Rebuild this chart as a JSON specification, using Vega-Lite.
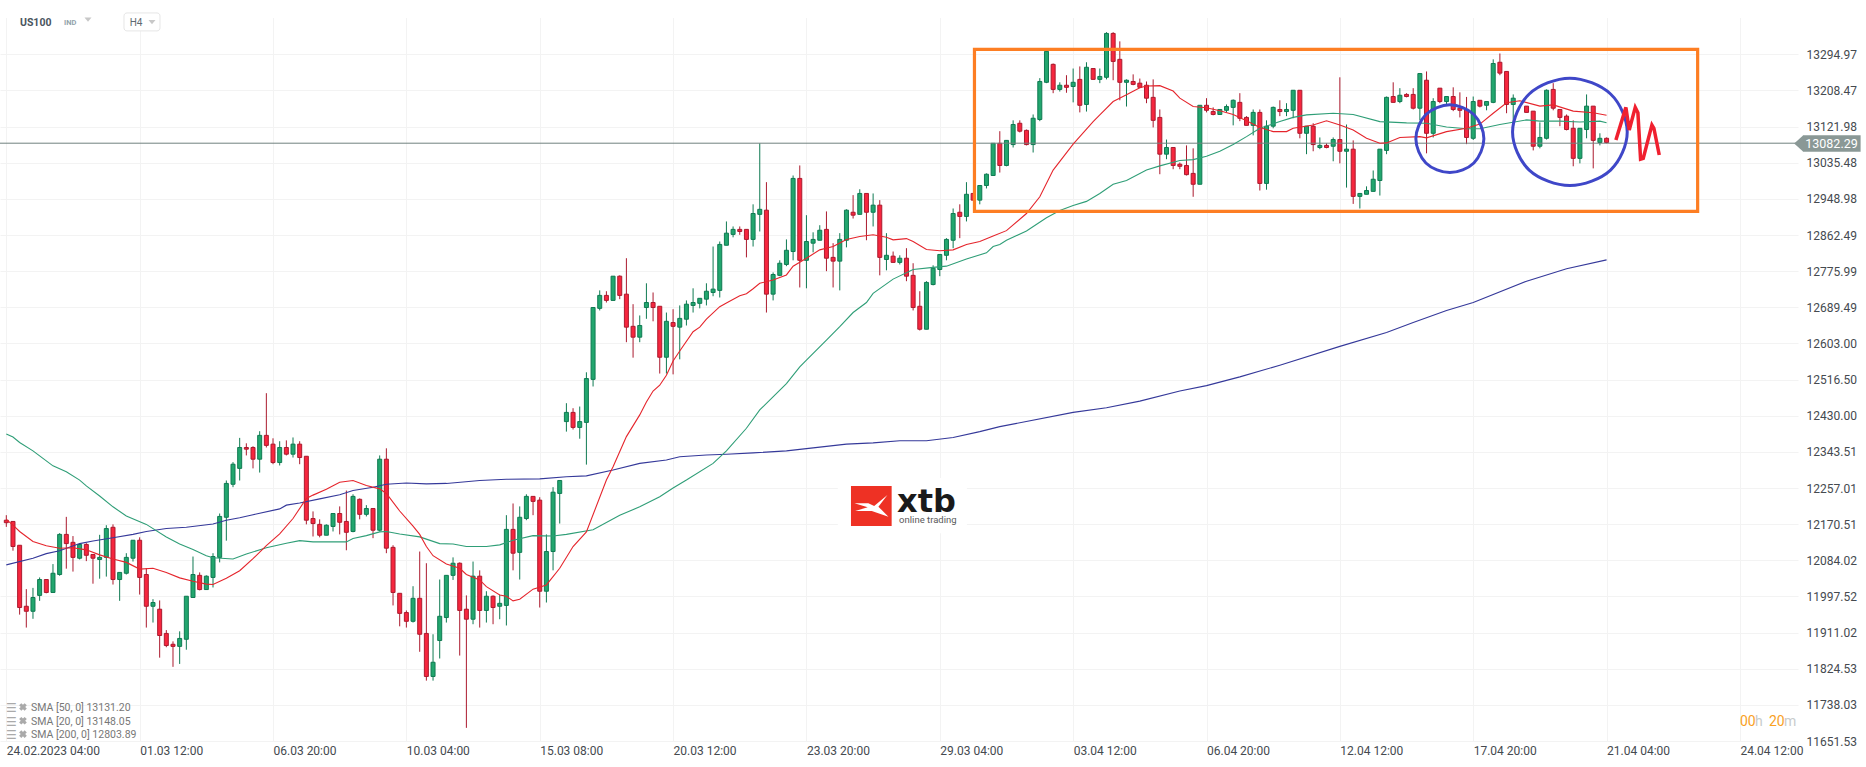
{
"$schema":"https://vega.github.io/schema/vega-lite/v6.json",
"width":1798,"height":741,"autosize":"none",
"padding":{"left":0,"top":0,"right":68,"bottom":26},
"background":"#ffffff",
"config":{"view":{"stroke":null},"text":{"font":"Roboto"},"axis":{"labelFont":"Roboto"}},
"datasets":{
"candles":[
{"i":0,"o":12180,"c":12174,"h":12192,"l":12164,"dir":"down"},{"i":1,"o":12177,"c":12117,"h":12177,"l":12107,"dir":"down"},{"i":2,"o":12120,"c":11971,"h":12120,"l":11954,"dir":"down"},{"i":3,"o":11974,"c":11962,"h":12015,"l":11923,"dir":"down"},{"i":4,"o":11962,"c":11995,"h":12018,"l":11944,"dir":"up"},{"i":5,"o":12000,"c":12038,"h":12043,"l":11987,"dir":"up"},{"i":6,"o":12038,"c":12007,"h":12038,"l":12005,"dir":"down"},{"i":7,"o":12007,"c":12053,"h":12075,"l":12007,"dir":"up"},{"i":8,"o":12050,"c":12146,"h":12149,"l":12047,"dir":"up"},{"i":9,"o":12146,"c":12124,"h":12188,"l":12064,"dir":"down"},
{"i":10,"o":12127,"c":12091,"h":12142,"l":12057,"dir":"down"},{"i":11,"o":12089,"c":12122,"h":12125,"l":12086,"dir":"up"},{"i":12,"o":12122,"c":12096,"h":12125,"l":12082,"dir":"down"},{"i":13,"o":12098,"c":12089,"h":12098,"l":12028,"dir":"down"},{"i":14,"o":12086,"c":12091,"h":12145,"l":12040,"dir":"up"},{"i":15,"o":12091,"c":12160,"h":12168,"l":12045,"dir":"up"},{"i":16,"o":12163,"c":12038,"h":12170,"l":12026,"dir":"down"},{"i":17,"o":12038,"c":12055,"h":12055,"l":11987,"dir":"up"},{"i":18,"o":12053,"c":12091,"h":12101,"l":12050,"dir":"up"},{"i":19,"o":12089,"c":12132,"h":12132,"l":12081,"dir":"up"},
{"i":20,"o":12132,"c":12043,"h":12139,"l":12002,"dir":"down"},{"i":21,"o":12050,"c":11974,"h":12065,"l":11923,"dir":"down"},{"i":22,"o":11974,"c":11983,"h":11991,"l":11935,"dir":"up"},{"i":23,"o":11967,"c":11904,"h":11988,"l":11851,"dir":"down"},{"i":24,"o":11909,"c":11880,"h":11917,"l":11876,"dir":"down"},{"i":25,"o":11883,"c":11878,"h":11890,"l":11829,"dir":"down"},{"i":26,"o":11878,"c":11897,"h":11914,"l":11836,"dir":"up"},{"i":27,"o":11895,"c":11998,"h":11998,"l":11870,"dir":"up"},{"i":28,"o":11995,"c":12050,"h":12093,"l":11995,"dir":"up"},{"i":29,"o":12048,"c":12014,"h":12055,"l":12012,"dir":"down"},
{"i":30,"o":12014,"c":12046,"h":12048,"l":12014,"dir":"up"},{"i":31,"o":12043,"c":12093,"h":12101,"l":12019,"dir":"up"},{"i":32,"o":12091,"c":12189,"h":12196,"l":12079,"dir":"up"},{"i":33,"o":12187,"c":12268,"h":12275,"l":12131,"dir":"up"},{"i":34,"o":12266,"c":12314,"h":12319,"l":12259,"dir":"up"},{"i":35,"o":12304,"c":12354,"h":12377,"l":12275,"dir":"up"},{"i":36,"o":12354,"c":12350,"h":12364,"l":12335,"dir":"down"},{"i":37,"o":12354,"c":12326,"h":12357,"l":12304,"dir":"down"},{"i":38,"o":12326,"c":12383,"h":12393,"l":12294,"dir":"up"},{"i":39,"o":12383,"c":12359,"h":12484,"l":12354,"dir":"down"},
{"i":40,"o":12362,"c":12318,"h":12376,"l":12314,"dir":"down"},{"i":41,"o":12318,"c":12354,"h":12369,"l":12311,"dir":"up"},{"i":42,"o":12354,"c":12338,"h":12371,"l":12335,"dir":"down"},{"i":43,"o":12338,"c":12362,"h":12378,"l":12330,"dir":"up"},{"i":44,"o":12362,"c":12330,"h":12369,"l":12314,"dir":"down"},{"i":45,"o":12333,"c":12180,"h":12333,"l":12170,"dir":"down"},{"i":46,"o":12184,"c":12172,"h":12201,"l":12141,"dir":"down"},{"i":47,"o":12170,"c":12144,"h":12182,"l":12139,"dir":"down"},{"i":48,"o":12144,"c":12168,"h":12170,"l":12144,"dir":"up"},{"i":49,"o":12165,"c":12196,"h":12196,"l":12153,"dir":"up"},
{"i":50,"o":12196,"c":12175,"h":12213,"l":12146,"dir":"down"},{"i":51,"o":12177,"c":12151,"h":12251,"l":12108,"dir":"down"},{"i":52,"o":12153,"c":12237,"h":12242,"l":12151,"dir":"up"},{"i":53,"o":12230,"c":12194,"h":12232,"l":12182,"dir":"down"},{"i":54,"o":12194,"c":12208,"h":12216,"l":12189,"dir":"up"},{"i":55,"o":12208,"c":12156,"h":12208,"l":12137,"dir":"down"},{"i":56,"o":12156,"c":12326,"h":12335,"l":12153,"dir":"up"},{"i":57,"o":12326,"c":12113,"h":12352,"l":12101,"dir":"down"},{"i":58,"o":12115,"c":12007,"h":12120,"l":11976,"dir":"down"},{"i":59,"o":12005,"c":11957,"h":12005,"l":11926,"dir":"down"},
{"i":60,"o":11959,"c":11938,"h":11964,"l":11923,"dir":"down"},{"i":61,"o":11938,"c":11993,"h":12022,"l":11935,"dir":"up"},{"i":62,"o":11993,"c":11907,"h":12105,"l":11865,"dir":"down"},{"i":63,"o":11909,"c":11806,"h":12077,"l":11796,"dir":"down"},{"i":64,"o":11806,"c":11840,"h":11907,"l":11796,"dir":"up"},{"i":65,"o":11892,"c":11950,"h":12038,"l":11849,"dir":"up"},{"i":66,"o":11947,"c":12048,"h":12048,"l":11935,"dir":"up"},{"i":67,"o":12048,"c":12077,"h":12091,"l":12037,"dir":"up"},{"i":68,"o":12077,"c":11964,"h":12079,"l":11856,"dir":"down"},{"i":69,"o":11967,"c":11943,"h":12000,"l":11683,"dir":"down"},
{"i":70,"o":11943,"c":12046,"h":12081,"l":11931,"dir":"up"},{"i":71,"o":12046,"c":11964,"h":12060,"l":11923,"dir":"down"},{"i":72,"o":11964,"c":11998,"h":12010,"l":11935,"dir":"up"},{"i":73,"o":11998,"c":11971,"h":12000,"l":11931,"dir":"down"},{"i":74,"o":11974,"c":11981,"h":12002,"l":11943,"dir":"up"},{"i":75,"o":11976,"c":12158,"h":12192,"l":11928,"dir":"up"},{"i":76,"o":12158,"c":12101,"h":12220,"l":12060,"dir":"down"},{"i":77,"o":12103,"c":12187,"h":12213,"l":12038,"dir":"up"},{"i":78,"o":12184,"c":12237,"h":12242,"l":12180,"dir":"up"},{"i":79,"o":12237,"c":12225,"h":12237,"l":12192,"dir":"down"},
{"i":80,"o":12228,"c":12010,"h":12235,"l":11971,"dir":"down"},{"i":81,"o":12010,"c":12105,"h":12146,"l":11983,"dir":"up"},{"i":82,"o":12105,"c":12247,"h":12259,"l":12060,"dir":"up"},{"i":83,"o":12244,"c":12275,"h":12275,"l":12172,"dir":"up"},{"i":84,"o":12416,"c":12438,"h":12460,"l":12392,"dir":"up"},{"i":85,"o":12438,"c":12402,"h":12448,"l":12397,"dir":"down"},{"i":86,"o":12402,"c":12416,"h":12452,"l":12375,"dir":"up"},{"i":87,"o":12414,"c":12519,"h":12534,"l":12313,"dir":"up"},{"i":88,"o":12517,"c":12689,"h":12689,"l":12500,"dir":"up"},{"i":89,"o":12687,"c":12718,"h":12730,"l":12682,"dir":"up"},
{"i":90,"o":12718,"c":12706,"h":12728,"l":12701,"dir":"down"},{"i":91,"o":12706,"c":12764,"h":12764,"l":12706,"dir":"up"},{"i":92,"o":12764,"c":12718,"h":12766,"l":12709,"dir":"down"},{"i":93,"o":12721,"c":12642,"h":12807,"l":12606,"dir":"down"},{"i":94,"o":12644,"c":12618,"h":12697,"l":12569,"dir":"down"},{"i":95,"o":12618,"c":12646,"h":12670,"l":12606,"dir":"up"},{"i":96,"o":12689,"c":12701,"h":12747,"l":12662,"dir":"up"},{"i":97,"o":12701,"c":12689,"h":12725,"l":12656,"dir":"down"},{"i":98,"o":12692,"c":12570,"h":12692,"l":12531,"dir":"down"},{"i":99,"o":12570,"c":12656,"h":12677,"l":12531,"dir":"up"},
{"i":100,"o":12653,"c":12644,"h":12685,"l":12529,"dir":"down"},{"i":101,"o":12642,"c":12663,"h":12694,"l":12565,"dir":"up"},{"i":102,"o":12661,"c":12697,"h":12706,"l":12646,"dir":"up"},{"i":103,"o":12694,"c":12701,"h":12735,"l":12677,"dir":"up"},{"i":104,"o":12699,"c":12711,"h":12711,"l":12687,"dir":"up"},{"i":105,"o":12709,"c":12728,"h":12747,"l":12694,"dir":"up"},{"i":106,"o":12725,"c":12733,"h":12835,"l":12716,"dir":"up"},{"i":107,"o":12730,"c":12840,"h":12847,"l":12713,"dir":"up"},{"i":108,"o":12838,"c":12867,"h":12895,"l":12838,"dir":"up"},{"i":109,"o":12864,"c":12876,"h":12883,"l":12857,"dir":"up"},
{"i":110,"o":12876,"c":12871,"h":12883,"l":12863,"dir":"down"},{"i":111,"o":12876,"c":12852,"h":12876,"l":12809,"dir":"down"},{"i":112,"o":12852,"c":12914,"h":12936,"l":12835,"dir":"up"},{"i":113,"o":12912,"c":12924,"h":13082,"l":12871,"dir":"up"},{"i":114,"o":12922,"c":12721,"h":12989,"l":12677,"dir":"down"},{"i":115,"o":12721,"c":12768,"h":12773,"l":12706,"dir":"up"},{"i":116,"o":12766,"c":12795,"h":12802,"l":12764,"dir":"up"},{"i":117,"o":12792,"c":12826,"h":12852,"l":12788,"dir":"up"},{"i":118,"o":12823,"c":12998,"h":13005,"l":12802,"dir":"up"},{"i":119,"o":12998,"c":12802,"h":13029,"l":12737,"dir":"down"},
{"i":120,"o":12802,"c":12847,"h":12910,"l":12735,"dir":"up"},{"i":121,"o":12843,"c":12852,"h":12869,"l":12821,"dir":"up"},{"i":122,"o":12850,"c":12874,"h":12886,"l":12850,"dir":"up"},{"i":123,"o":12876,"c":12807,"h":12919,"l":12776,"dir":"down"},{"i":124,"o":12809,"c":12800,"h":12843,"l":12737,"dir":"down"},{"i":125,"o":12800,"c":12852,"h":12867,"l":12730,"dir":"up"},{"i":126,"o":12850,"c":12922,"h":12924,"l":12833,"dir":"up"},{"i":127,"o":12917,"c":12910,"h":12958,"l":12902,"dir":"down"},{"i":128,"o":12912,"c":12962,"h":12972,"l":12912,"dir":"up"},{"i":129,"o":12962,"c":12917,"h":12962,"l":12850,"dir":"down"},
{"i":130,"o":12917,"c":12934,"h":12962,"l":12883,"dir":"up"},{"i":131,"o":12934,"c":12809,"h":12946,"l":12766,"dir":"down"},{"i":132,"o":12804,"c":12814,"h":12867,"l":12778,"dir":"up"},{"i":133,"o":12812,"c":12797,"h":12823,"l":12797,"dir":"down"},{"i":134,"o":12797,"c":12807,"h":12814,"l":12792,"dir":"up"},{"i":135,"o":12807,"c":12764,"h":12831,"l":12752,"dir":"down"},{"i":136,"o":12766,"c":12689,"h":12795,"l":12682,"dir":"down"},{"i":137,"o":12692,"c":12637,"h":12728,"l":12634,"dir":"down"},{"i":138,"o":12637,"c":12749,"h":12752,"l":12637,"dir":"up"},{"i":139,"o":12744,"c":12783,"h":12790,"l":12742,"dir":"up"},
{"i":140,"o":12780,"c":12816,"h":12816,"l":12764,"dir":"up"},{"i":141,"o":12814,"c":12852,"h":12855,"l":12802,"dir":"up"},{"i":142,"o":12850,"c":12914,"h":12926,"l":12831,"dir":"up"},{"i":143,"o":12917,"c":12907,"h":12936,"l":12855,"dir":"down"},{"i":144,"o":12907,"c":12960,"h":12989,"l":12895,"dir":"up"},{"i":145,"o":12962,"c":12946,"h":12962,"l":12946,"dir":"down"},{"i":146,"o":12946,"c":12981,"h":12981,"l":12936,"dir":"up"},{"i":147,"o":12981,"c":13008,"h":13010,"l":12974,"dir":"up"},{"i":148,"o":13005,"c":13082,"h":13082,"l":13005,"dir":"up"},{"i":149,"o":13082,"c":13029,"h":13111,"l":13012,"dir":"down"},
{"i":150,"o":13029,"c":13089,"h":13089,"l":13027,"dir":"up"},{"i":151,"o":13079,"c":13127,"h":13137,"l":13072,"dir":"up"},{"i":152,"o":13130,"c":13111,"h":13137,"l":13108,"dir":"down"},{"i":153,"o":13113,"c":13079,"h":13115,"l":13077,"dir":"down"},{"i":154,"o":13079,"c":13142,"h":13151,"l":13060,"dir":"up"},{"i":155,"o":13139,"c":13230,"h":13238,"l":13135,"dir":"up"},{"i":156,"o":13228,"c":13302,"h":13302,"l":13226,"dir":"up"},{"i":157,"o":13271,"c":13211,"h":13273,"l":13202,"dir":"down"},{"i":158,"o":13211,"c":13221,"h":13228,"l":13206,"dir":"up"},{"i":159,"o":13221,"c":13216,"h":13245,"l":13203,"dir":"down"},
{"i":160,"o":13218,"c":13228,"h":13261,"l":13180,"dir":"up"},{"i":161,"o":13235,"c":13173,"h":13266,"l":13156,"dir":"down"},{"i":162,"o":13175,"c":13264,"h":13276,"l":13158,"dir":"up"},{"i":163,"o":13261,"c":13235,"h":13261,"l":13235,"dir":"down"},{"i":164,"o":13235,"c":13242,"h":13261,"l":13226,"dir":"up"},{"i":165,"o":13240,"c":13345,"h":13348,"l":13235,"dir":"up"},{"i":166,"o":13345,"c":13278,"h":13348,"l":13233,"dir":"down"},{"i":167,"o":13283,"c":13228,"h":13326,"l":13185,"dir":"down"},{"i":168,"o":13228,"c":13233,"h":13235,"l":13170,"dir":"up"},{"i":169,"o":13230,"c":13223,"h":13247,"l":13221,"dir":"down"},
{"i":170,"o":13226,"c":13216,"h":13237,"l":13214,"dir":"down"},{"i":171,"o":13221,"c":13190,"h":13230,"l":13178,"dir":"down"},{"i":172,"o":13192,"c":13137,"h":13235,"l":13120,"dir":"down"},{"i":173,"o":13144,"c":13056,"h":13163,"l":13008,"dir":"down"},{"i":174,"o":13056,"c":13072,"h":13091,"l":13044,"dir":"up"},{"i":175,"o":13072,"c":13029,"h":13072,"l":13020,"dir":"down"},{"i":176,"o":13032,"c":13027,"h":13036,"l":13020,"dir":"down"},{"i":177,"o":13029,"c":13007,"h":13077,"l":13005,"dir":"down"},{"i":178,"o":13010,"c":12984,"h":13070,"l":12954,"dir":"down"},{"i":179,"o":12984,"c":13173,"h":13173,"l":12984,"dir":"up"},
{"i":180,"o":13173,"c":13161,"h":13190,"l":13156,"dir":"down"},{"i":181,"o":13158,"c":13151,"h":13168,"l":13149,"dir":"down"},{"i":182,"o":13151,"c":13163,"h":13163,"l":13151,"dir":"up"},{"i":183,"o":13161,"c":13170,"h":13175,"l":13156,"dir":"up"},{"i":184,"o":13168,"c":13185,"h":13187,"l":13125,"dir":"up"},{"i":185,"o":13180,"c":13142,"h":13202,"l":13135,"dir":"down"},{"i":186,"o":13144,"c":13125,"h":13147,"l":13125,"dir":"down"},{"i":187,"o":13125,"c":13156,"h":13163,"l":13101,"dir":"up"},{"i":188,"o":13156,"c":12986,"h":13163,"l":12969,"dir":"down"},{"i":189,"o":12986,"c":13123,"h":13137,"l":12971,"dir":"up"},
{"i":190,"o":13123,"c":13168,"h":13170,"l":13118,"dir":"up"},{"i":191,"o":13163,"c":13158,"h":13185,"l":13147,"dir":"down"},{"i":192,"o":13158,"c":13163,"h":13178,"l":13147,"dir":"up"},{"i":193,"o":13161,"c":13209,"h":13209,"l":13142,"dir":"up"},{"i":194,"o":13209,"c":13106,"h":13209,"l":13094,"dir":"down"},{"i":195,"o":13106,"c":13123,"h":13123,"l":13056,"dir":"up"},{"i":196,"o":13123,"c":13079,"h":13130,"l":13063,"dir":"down"},{"i":197,"o":13072,"c":13077,"h":13096,"l":13068,"dir":"up"},{"i":198,"o":13077,"c":13072,"h":13082,"l":13070,"dir":"down"},{"i":199,"o":13075,"c":13091,"h":13096,"l":13039,"dir":"up"},
{"i":200,"o":13091,"c":13063,"h":13240,"l":13034,"dir":"down"},{"i":201,"o":13063,"c":13068,"h":13127,"l":12976,"dir":"up"},{"i":202,"o":13068,"c":12955,"h":13089,"l":12937,"dir":"down"},{"i":203,"o":12955,"c":12962,"h":12962,"l":12926,"dir":"up"},{"i":204,"o":12960,"c":12969,"h":12979,"l":12960,"dir":"up"},{"i":205,"o":12967,"c":12996,"h":13017,"l":12967,"dir":"up"},{"i":206,"o":12993,"c":13068,"h":13068,"l":12957,"dir":"up"},{"i":207,"o":13065,"c":13192,"h":13194,"l":13056,"dir":"up"},{"i":208,"o":13194,"c":13180,"h":13228,"l":13180,"dir":"down"},{"i":209,"o":13182,"c":13197,"h":13214,"l":13178,"dir":"up"},
{"i":210,"o":13199,"c":13194,"h":13202,"l":13192,"dir":"down"},{"i":211,"o":13199,"c":13166,"h":13214,"l":13163,"dir":"down"},{"i":212,"o":13166,"c":13249,"h":13249,"l":13137,"dir":"up"},{"i":213,"o":13233,"c":13106,"h":13254,"l":13058,"dir":"down"},{"i":214,"o":13106,"c":13182,"h":13190,"l":13096,"dir":"up"},{"i":215,"o":13214,"c":13182,"h":13214,"l":13178,"dir":"down"},{"i":216,"o":13182,"c":13194,"h":13194,"l":13173,"dir":"up"},{"i":217,"o":13194,"c":13163,"h":13216,"l":13159,"dir":"down"},{"i":218,"o":13166,"c":13161,"h":13204,"l":13144,"dir":"down"},{"i":219,"o":13163,"c":13096,"h":13193,"l":13080,"dir":"down"},
{"i":220,"o":13094,"c":13182,"h":13194,"l":13090,"dir":"up"},{"i":221,"o":13185,"c":13171,"h":13185,"l":13168,"dir":"down"},{"i":222,"o":13173,"c":13182,"h":13182,"l":13161,"dir":"up"},{"i":223,"o":13180,"c":13273,"h":13283,"l":13178,"dir":"up"},{"i":224,"o":13276,"c":13250,"h":13297,"l":13245,"dir":"down"},{"i":225,"o":13254,"c":13175,"h":13254,"l":13154,"dir":"down"},{"i":226,"o":13175,"c":13190,"h":13199,"l":13130,"dir":"up"},{"i":228,"o":13171,"c":13156,"h":13171,"l":13156,"dir":"down"},{"i":229,"o":13159,"c":13075,"h":13159,"l":13065,"dir":"down"},
{"i":230,"o":13075,"c":13096,"h":13132,"l":13070,"dir":"up"},{"i":231,"o":13094,"c":13209,"h":13211,"l":13091,"dir":"up"},{"i":232,"o":13211,"c":13166,"h":13226,"l":13161,"dir":"down"},{"i":233,"o":13163,"c":13144,"h":13163,"l":13123,"dir":"down"},{"i":234,"o":13147,"c":13115,"h":13151,"l":13113,"dir":"down"},{"i":235,"o":13118,"c":13046,"h":13137,"l":13027,"dir":"down"},{"i":236,"o":13046,"c":13118,"h":13118,"l":13034,"dir":"up"},{"i":237,"o":13115,"c":13171,"h":13199,"l":13094,"dir":"up"},{"i":238,"o":13171,"c":13089,"h":13171,"l":13022,"dir":"down"},{"i":239,"o":13084,"c":13094,"h":13106,"l":13077,"dir":"up"},{"i":240,"o":13094,"c":13084,"h":13096,"l":13082,"dir":"down"}
],
"sma":[
{"i":0,"p":12073,"sma":"200"},{"i":4,"p":12089,"sma":"200"},{"i":6,"p":12100,"sma":"200"},{"i":8,"p":12107,"sma":"200"},{"i":11,"p":12124,"sma":"200"},{"i":13,"p":12130,"sma":"200"},{"i":16,"p":12138,"sma":"200"},{"i":19,"p":12146,"sma":"200"},{"i":21,"p":12153,"sma":"200"},{"i":24,"p":12160,"sma":"200"},{"i":27,"p":12163,"sma":"200"},{"i":31,"p":12171,"sma":"200"},{"i":33,"p":12180,"sma":"200"},{"i":35,"p":12186,"sma":"200"},{"i":37,"p":12193,"sma":"200"},{"i":41,"p":12207,"sma":"200"},{"i":42,"p":12216,"sma":"200"},{"i":44,"p":12221,"sma":"200"},{"i":47,"p":12231,"sma":"200"},{"i":50,"p":12241,"sma":"200"},{"i":52,"p":12251,"sma":"200"},{"i":55,"p":12259,"sma":"200"},{"i":57,"p":12266,"sma":"200"},{"i":60,"p":12269,"sma":"200"},{"i":63,"p":12267,"sma":"200"},{"i":66,"p":12268,"sma":"200"},{"i":71,"p":12275,"sma":"200"},{"i":75,"p":12278,"sma":"200"},{"i":80,"p":12279,"sma":"200"},{"i":84,"p":12284,"sma":"200"},{"i":87,"p":12286,"sma":"200"},{"i":91,"p":12300,"sma":"200"},{"i":95,"p":12316,"sma":"200"},{"i":99,"p":12324,"sma":"200"},{"i":101,"p":12332,"sma":"200"},{"i":105,"p":12336,"sma":"200"},{"i":108,"p":12338,"sma":"200"},{"i":112,"p":12341,"sma":"200"},{"i":117,"p":12346,"sma":"200"},{"i":121,"p":12353,"sma":"200"},{"i":126,"p":12362,"sma":"200"},{"i":130,"p":12365,"sma":"200"},{"i":134,"p":12370,"sma":"200"},{"i":138,"p":12370,"sma":"200"},{"i":142,"p":12378,"sma":"200"},{"i":146,"p":12392,"sma":"200"},{"i":149,"p":12404,"sma":"200"},{"i":160,"p":12438,"sma":"200"},{"i":165,"p":12449,"sma":"200"},{"i":170,"p":12465,"sma":"200"},{"i":176,"p":12489,"sma":"200"},{"i":180,"p":12502,"sma":"200"},{"i":185,"p":12523,"sma":"200"},{"i":191,"p":12551,"sma":"200"},{"i":200,"p":12596,"sma":"200"},{"i":207,"p":12629,"sma":"200"},{"i":211,"p":12653,"sma":"200"},{"i":216,"p":12682,"sma":"200"},{"i":220,"p":12701,"sma":"200"},{"i":228,"p":12752,"sma":"200"},{"i":234,"p":12782,"sma":"200"},{"i":240,"p":12803,"sma":"200"},
{"i":0,"p":12386,"sma":"50"},{"i":1,"p":12379,"sma":"50"},{"i":2,"p":12366,"sma":"50"},{"i":4,"p":12346,"sma":"50"},{"i":5,"p":12334,"sma":"50"},{"i":7,"p":12310,"sma":"50"},{"i":9,"p":12296,"sma":"50"},{"i":11,"p":12276,"sma":"50"},{"i":12,"p":12262,"sma":"50"},{"i":14,"p":12238,"sma":"50"},{"i":16,"p":12212,"sma":"50"},{"i":18,"p":12190,"sma":"50"},{"i":21,"p":12170,"sma":"50"},{"i":24,"p":12140,"sma":"50"},{"i":26,"p":12123,"sma":"50"},{"i":28,"p":12110,"sma":"50"},{"i":30,"p":12095,"sma":"50"},{"i":31,"p":12090,"sma":"50"},{"i":34,"p":12087,"sma":"50"},{"i":36,"p":12099,"sma":"50"},{"i":39,"p":12114,"sma":"50"},{"i":42,"p":12125,"sma":"50"},{"i":44,"p":12131,"sma":"50"},{"i":46,"p":12128,"sma":"50"},{"i":51,"p":12128,"sma":"50"},{"i":52,"p":12136,"sma":"50"},{"i":54,"p":12143,"sma":"50"},{"i":56,"p":12152,"sma":"50"},{"i":57,"p":12153,"sma":"50"},{"i":59,"p":12147,"sma":"50"},{"i":62,"p":12140,"sma":"50"},{"i":65,"p":12124,"sma":"50"},{"i":67,"p":12123,"sma":"50"},{"i":69,"p":12117,"sma":"50"},{"i":72,"p":12117,"sma":"50"},{"i":74,"p":12121,"sma":"50"},{"i":76,"p":12132,"sma":"50"},{"i":79,"p":12143,"sma":"50"},{"i":82,"p":12142,"sma":"50"},{"i":84,"p":12146,"sma":"50"},{"i":88,"p":12157,"sma":"50"},{"i":92,"p":12192,"sma":"50"},{"i":95,"p":12212,"sma":"50"},{"i":98,"p":12236,"sma":"50"},{"i":100,"p":12257,"sma":"50"},{"i":102,"p":12276,"sma":"50"},{"i":106,"p":12316,"sma":"50"},{"i":108,"p":12346,"sma":"50"},{"i":111,"p":12400,"sma":"50"},{"i":113,"p":12444,"sma":"50"},{"i":117,"p":12507,"sma":"50"},{"i":119,"p":12547,"sma":"50"},{"i":120,"p":12563,"sma":"50"},{"i":123,"p":12611,"sma":"50"},{"i":125,"p":12643,"sma":"50"},{"i":127,"p":12677,"sma":"50"},{"i":129,"p":12701,"sma":"50"},{"i":130,"p":12723,"sma":"50"},{"i":133,"p":12757,"sma":"50"},{"i":136,"p":12780,"sma":"50"},{"i":139,"p":12785,"sma":"50"},{"i":141,"p":12788,"sma":"50"},{"i":144,"p":12805,"sma":"50"},{"i":147,"p":12820,"sma":"50"},{"i":148,"p":12835,"sma":"50"},{"i":149,"p":12840,"sma":"50"},{"i":150,"p":12850,"sma":"50"},{"i":153,"p":12872,"sma":"50"},{"i":156,"p":12904,"sma":"50"},{"i":158,"p":12921,"sma":"50"},{"i":160,"p":12933,"sma":"50"},{"i":162,"p":12943,"sma":"50"},{"i":164,"p":12962,"sma":"50"},{"i":166,"p":12984,"sma":"50"},{"i":168,"p":12993,"sma":"50"},{"i":171,"p":13018,"sma":"50"},{"i":173,"p":13028,"sma":"50"},{"i":176,"p":13041,"sma":"50"},{"i":178,"p":13043,"sma":"50"},{"i":180,"p":13051,"sma":"50"},{"i":182,"p":13063,"sma":"50"},{"i":184,"p":13079,"sma":"50"},{"i":186,"p":13098,"sma":"50"},{"i":188,"p":13118,"sma":"50"},{"i":191,"p":13134,"sma":"50"},{"i":193,"p":13144,"sma":"50"},{"i":195,"p":13150,"sma":"50"},{"i":199,"p":13154,"sma":"50"},{"i":202,"p":13151,"sma":"50"},{"i":206,"p":13134,"sma":"50"},{"i":210,"p":13131,"sma":"50"},{"i":213,"p":13130,"sma":"50"},{"i":216,"p":13121,"sma":"50"},{"i":219,"p":13117,"sma":"50"},{"i":221,"p":13117,"sma":"50"},{"i":224,"p":13127,"sma":"50"},{"i":228,"p":13138,"sma":"50"},{"i":230,"p":13135,"sma":"50"},{"i":233,"p":13135,"sma":"50"},{"i":236,"p":13133,"sma":"50"},{"i":239,"p":13135,"sma":"50"},{"i":240,"p":13131,"sma":"50"},
{"i":0,"p":12182,"sma":"20"},{"i":1,"p":12168,"sma":"20"},{"i":2,"p":12153,"sma":"20"},{"i":4,"p":12129,"sma":"20"},{"i":6,"p":12119,"sma":"20"},{"i":8,"p":12113,"sma":"20"},{"i":10,"p":12114,"sma":"20"},{"i":12,"p":12109,"sma":"20"},{"i":14,"p":12097,"sma":"20"},{"i":16,"p":12087,"sma":"20"},{"i":18,"p":12079,"sma":"20"},{"i":20,"p":12063,"sma":"20"},{"i":22,"p":12065,"sma":"20"},{"i":24,"p":12055,"sma":"20"},{"i":26,"p":12042,"sma":"20"},{"i":28,"p":12034,"sma":"20"},{"i":30,"p":12027,"sma":"20"},{"i":31,"p":12026,"sma":"20"},{"i":33,"p":12041,"sma":"20"},{"i":35,"p":12059,"sma":"20"},{"i":37,"p":12088,"sma":"20"},{"i":39,"p":12119,"sma":"20"},{"i":41,"p":12147,"sma":"20"},{"i":43,"p":12184,"sma":"20"},{"i":45,"p":12232,"sma":"20"},{"i":46,"p":12240,"sma":"20"},{"i":48,"p":12254,"sma":"20"},{"i":50,"p":12271,"sma":"20"},{"i":52,"p":12275,"sma":"20"},{"i":54,"p":12263,"sma":"20"},{"i":56,"p":12255,"sma":"20"},{"i":57,"p":12244,"sma":"20"},{"i":59,"p":12202,"sma":"20"},{"i":61,"p":12166,"sma":"20"},{"i":62,"p":12146,"sma":"20"},{"i":63,"p":12117,"sma":"20"},{"i":64,"p":12095,"sma":"20"},{"i":66,"p":12075,"sma":"20"},{"i":68,"p":12065,"sma":"20"},{"i":69,"p":12050,"sma":"20"},{"i":71,"p":12037,"sma":"20"},{"i":72,"p":12021,"sma":"20"},{"i":74,"p":12001,"sma":"20"},{"i":75,"p":11998,"sma":"20"},{"i":76,"p":11987,"sma":"20"},{"i":77,"p":11991,"sma":"20"},{"i":79,"p":12015,"sma":"20"},{"i":81,"p":12025,"sma":"20"},{"i":83,"p":12065,"sma":"20"},{"i":85,"p":12117,"sma":"20"},{"i":87,"p":12152,"sma":"20"},{"i":90,"p":12276,"sma":"20"},{"i":91,"p":12308,"sma":"20"},{"i":93,"p":12380,"sma":"20"},{"i":95,"p":12432,"sma":"20"},{"i":96,"p":12463,"sma":"20"},{"i":97,"p":12489,"sma":"20"},{"i":98,"p":12503,"sma":"20"},{"i":99,"p":12527,"sma":"20"},{"i":100,"p":12561,"sma":"20"},{"i":101,"p":12585,"sma":"20"},{"i":103,"p":12631,"sma":"20"},{"i":104,"p":12642,"sma":"20"},{"i":105,"p":12661,"sma":"20"},{"i":107,"p":12691,"sma":"20"},{"i":108,"p":12700,"sma":"20"},{"i":110,"p":12717,"sma":"20"},{"i":111,"p":12722,"sma":"20"},{"i":112,"p":12734,"sma":"20"},{"i":113,"p":12747,"sma":"20"},{"i":115,"p":12755,"sma":"20"},{"i":117,"p":12767,"sma":"20"},{"i":118,"p":12788,"sma":"20"},{"i":120,"p":12807,"sma":"20"},{"i":122,"p":12827,"sma":"20"},{"i":124,"p":12835,"sma":"20"},{"i":126,"p":12852,"sma":"20"},{"i":128,"p":12859,"sma":"20"},{"i":130,"p":12863,"sma":"20"},{"i":132,"p":12857,"sma":"20"},{"i":133,"p":12851,"sma":"20"},{"i":135,"p":12854,"sma":"20"},{"i":136,"p":12847,"sma":"20"},{"i":138,"p":12828,"sma":"20"},{"i":140,"p":12825,"sma":"20"},{"i":142,"p":12827,"sma":"20"},{"i":144,"p":12840,"sma":"20"},{"i":146,"p":12847,"sma":"20"},{"i":148,"p":12860,"sma":"20"},{"i":150,"p":12873,"sma":"20"},{"i":153,"p":12914,"sma":"20"},{"i":155,"p":12954,"sma":"20"},{"i":157,"p":13018,"sma":"20"},{"i":160,"p":13080,"sma":"20"},{"i":163,"p":13134,"sma":"20"},{"i":164,"p":13150,"sma":"20"},{"i":166,"p":13182,"sma":"20"},{"i":168,"p":13198,"sma":"20"},{"i":170,"p":13215,"sma":"20"},{"i":171,"p":13219,"sma":"20"},{"i":173,"p":13220,"sma":"20"},{"i":175,"p":13207,"sma":"20"},{"i":176,"p":13190,"sma":"20"},{"i":178,"p":13170,"sma":"20"},{"i":180,"p":13167,"sma":"20"},{"i":182,"p":13160,"sma":"20"},{"i":184,"p":13151,"sma":"20"},{"i":186,"p":13136,"sma":"20"},{"i":188,"p":13120,"sma":"20"},{"i":190,"p":13110,"sma":"20"},{"i":192,"p":13110,"sma":"20"},{"i":193,"p":13118,"sma":"20"},{"i":196,"p":13126,"sma":"20"},{"i":198,"p":13136,"sma":"20"},{"i":200,"p":13126,"sma":"20"},{"i":202,"p":13114,"sma":"20"},{"i":204,"p":13094,"sma":"20"},{"i":206,"p":13082,"sma":"20"},{"i":207,"p":13083,"sma":"20"},{"i":209,"p":13096,"sma":"20"},{"i":212,"p":13098,"sma":"20"},{"i":213,"p":13095,"sma":"20"},{"i":216,"p":13110,"sma":"20"},{"i":219,"p":13118,"sma":"20"},{"i":221,"p":13128,"sma":"20"},{"i":223,"p":13154,"sma":"20"},{"i":225,"p":13179,"sma":"20"},{"i":227,"p":13184,"sma":"20"},{"i":230,"p":13171,"sma":"20"},{"i":232,"p":13174,"sma":"20"},{"i":235,"p":13159,"sma":"20"},{"i":238,"p":13155,"sma":"20"},{"i":240,"p":13149,"sma":"20"}
],
"circles":[
{"c":"a","k":0,"i":221.6,"p":13093},{"c":"a","k":1,"i":220.1,"p":13151},{"c":"a","k":2,"i":216.5,"p":13174},{"c":"a","k":3,"i":212.9,"p":13151},{"c":"a","k":4,"i":211.4,"p":13093},{"c":"a","k":5,"i":212.9,"p":13035},{"c":"a","k":6,"i":216.5,"p":13012},{"c":"a","k":7,"i":220.1,"p":13035},
{"c":"b","k":0,"i":243.1,"p":13109},{"c":"b","k":1,"i":240.6,"p":13200},{"c":"b","k":2,"i":234.5,"p":13238},{"c":"b","k":3,"i":228.4,"p":13200},{"c":"b","k":4,"i":225.9,"p":13109},{"c":"b","k":5,"i":228.4,"p":13018},{"c":"b","k":6,"i":234.5,"p":12981},{"c":"b","k":7,"i":240.6,"p":13018}
],
"scribble":[
{"k":0,"i":241.4,"p":13090},{"k":1,"i":242.9,"p":13168},{"k":2,"i":243.4,"p":13114},{"k":3,"i":244.3,"p":13168},{"k":4,"i":244.7,"p":13155},{"k":5,"i":245.1,"p":13044},{"k":6,"i":245.5,"p":13046},{"k":7,"i":246.8,"p":13126},{"k":8,"i":247.1,"p":13118},{"k":9,"i":247.9,"p":13054}
]
},
"encoding":{
"x":{"field":"i","type":"quantitative","title":null,"scale":{"domain":[-0.945,268.71],"nice":false,"zero":false,"padding":0},
"axis":{"values":[0,20,40,60,80,100,120,140,160,180,200,220,240,260],"domain":false,"ticks":false,"gridColor":"#f3f3f3","grid":true,"labelAlign":"left","labelFontSize":12,"labelColor":"#454a4f","labelPadding":4,"labelOverlap":false,"labelFlush":false,"labelBound":false,
"labelExpr":"['24.02.2023  04:00','01.03  12:00','06.03  20:00','10.03  04:00','15.03  08:00','20.03  12:00','23.03  20:00','29.03  04:00','03.04  12:00','06.04  20:00','12.04  12:00','17.04  20:00','21.04  04:00','24.04  12:00'][datum.value/20]"}},
"y":{"field":"p","type":"quantitative","title":null,"scale":{"domain":[11651.53,13425],"nice":false,"zero":false},
"axis":{"orient":"right","values":[11651.53,11738.03,11824.53,11911.02,11997.52,12084.02,12170.51,12257.01,12343.51,12430,12516.5,12603,12689.49,12775.99,12862.49,12948.98,13035.48,13121.98,13208.47,13294.97],"format":".2f","domain":false,"ticks":false,"gridColor":"#f3f3f3","grid":true,"labelFontSize":12,"labelColor":"#454a4f","labelPadding":8,"labelOverlap":false,"labelBound":false,"labelFlush":false,"encode":{"labels":{"update":{"dy":{"signal":"datum.value<11700?-4:0"}}}}}}
},
"layer":[
{"data":{"values":[{"i":-0.945,"i2":268.71,"p":13382,"p2":13425},{"i":124.7,"i2":144.07,"p":12149,"p2":12281}]},
 "mark":{"type":"rect","fill":"#ffffff"},"encoding":{"x2":{"field":"i2"},"y2":{"field":"p2"}}},
{"data":{"name":"candles"},"mark":{"type":"rule","strokeWidth":1},
 "encoding":{"y":{"field":"h","type":"quantitative","title":null},"y2":{"field":"l"},
 "stroke":{"field":"dir","type":"nominal","legend":null,"scale":{"domain":["up","down"],"range":["#0f7a52","#ab1a2e"]}}}},
{"data":{"name":"candles"},"mark":{"type":"bar","size":4,"strokeWidth":1},
 "encoding":{"y":{"field":"o","type":"quantitative","title":null},"y2":{"field":"c"},
 "fill":{"field":"dir","type":"nominal","legend":null,"scale":{"domain":["up","down"],"range":["#22a66e","#f6263e"]}},
 "stroke":{"field":"dir","type":"nominal","legend":null,"scale":{"domain":["up","down"],"range":["#0f7a52","#ab1a2e"]}}}},
{"data":{"values":[{"p":13082.29}]},"mark":{"type":"rule","stroke":"#70827f","strokeWidth":1},"encoding":{"x":{"value":0},"x2":{"value":1798}}},
{"data":{"name":"sma"},"mark":{"type":"line","strokeWidth":1.1},
 "encoding":{"color":{"field":"sma","type":"nominal","legend":null,"scale":{"domain":["200","50","20"],"range":["#35399a","#2f9e77","#e5252c"]}}}},
{"data":{"values":[{"i":145.2,"i2":253.66,"p":13307,"p2":12919.3}]},"mark":{"type":"rect","filled":false,"stroke":"#fd7e23","strokeWidth":3.2},"encoding":{"x2":{"field":"i2"},"y2":{"field":"p2"}}},
{"data":{"name":"circles"},"mark":{"type":"line","stroke":"#3f47c8","strokeWidth":3,"interpolate":"cardinal-closed","tension":0},"encoding":{"detail":{"field":"c"},"order":{"field":"k"}}},
{"data":{"name":"scribble"},"mark":{"type":"line","stroke":"#f0202f","strokeWidth":3.5},"encoding":{"order":{"field":"k"}}},
{"data":{"values":[{"i":126.68,"i2":132.78,"p":12261.8,"p2":12166.1}]},"mark":{"type":"rect","fill":"#ee3124"},"encoding":{"x2":{"field":"i2"},"y2":{"field":"p2"}}},
{"data":{"values":[{"i":129.8,"p":12214}]},"mark":{"type":"point","filled":true,"opacity":1,"fill":"#ffffff","size":1156,"shape":"M -1.02 -0.16 L -0.2 -0.16 L 0.14 0 L 0.92 -0.65 L 0.39 0.04 L 0.98 0.63 L 0 0.29 L -0.98 0.29 L -0.24 0.08 Z"}},
{"data":{"values":[{"i":133.6,"p":12200.3,"t":"xtb"}]},"mark":{"type":"text","font":"DejaVu Sans","fontWeight":"bold","fontSize":32,"align":"left","baseline":"alphabetic","fill":"#1a1a1a"},"encoding":{"text":{"field":"t"}}},
{"data":{"values":[{"i":133.9,"p":12173.3,"t":"online trading"}]},"mark":{"type":"text","fontSize":9.5,"align":"left","baseline":"alphabetic","fill":"#5a5a5a"},"encoding":{"text":{"field":"t"}}},
{"data":{"values":[{"i":269.45,"i2":278.1,"p":13101.2,"p2":13061.9}]},"mark":{"type":"rect","fill":"#8a9896"},"encoding":{"x2":{"field":"i2"},"y2":{"field":"p2"}}},
{"data":{"values":[{"i":268.8,"p":13081.5}]},"mark":{"type":"point","filled":true,"opacity":1,"fill":"#8a9896","size":256,"shape":"M -0.56 0 L 0.56 -1 L 0.56 1 Z"}},
{"data":{"values":[{"i":269.8,"p":13081.5,"t":"13082.29"}]},"mark":{"type":"text","fontSize":12.5,"align":"left","baseline":"middle","fill":"#ffffff"},"encoding":{"text":{"field":"t"}}},
{"data":{"values":[{"i":17.65,"i2":23.05,"p":13394,"p2":13351}]},"mark":{"type":"rect","fill":"#ffffff","stroke":"#e6e6e6","cornerRadius":3},"encoding":{"x2":{"field":"i2"},"y2":{"field":"p2"}}},
{"data":{"values":[{"i":2.05,"p":13370,"t":"US100"}]},"mark":{"type":"text","fontSize":10.5,"fontWeight":"bold","align":"left","baseline":"middle","fill":"#4a5560"},"encoding":{"text":{"field":"t"}}},
{"data":{"values":[{"i":8.65,"p":13370,"t":"IND"}]},"mark":{"type":"text","fontSize":7.5,"fontWeight":"bold","align":"left","baseline":"middle","fill":"#93a3ab"},"encoding":{"text":{"field":"t"}}},
{"data":{"values":[{"i":18.5,"p":13370,"t":"H4"}]},"mark":{"type":"text","fontSize":10,"align":"left","baseline":"middle","fill":"#5f6a72"},"encoding":{"text":{"field":"t"}}},
{"data":{"values":[{"i":12.25,"p":13378},{"i":21.85,"p":13372}]},"mark":{"type":"point","filled":true,"opacity":1,"fill":"#c8c8c8","size":49,"shape":"M -1 -0.6 L 1 -0.6 L 0 0.6 Z"}},
{"data":{"values":[{"i":3.7,"p":11731,"t":"SMA  [50,  0] 13131.20"},{"i":3.7,"p":11698,"t":"SMA  [20,  0] 13148.05"},{"i":3.7,"p":11666,"t":"SMA  [200,  0] 12803.89"}]},"mark":{"type":"text","fontSize":10.5,"align":"left","baseline":"middle","fill":"#777777"},"encoding":{"text":{"field":"t"}}},
{"data":{"values":[{"i":0.75,"p":11731,"t":"☰"},{"i":0.75,"p":11698,"t":"☰"},{"i":0.75,"p":11666,"t":"☰"}]},"mark":{"type":"text","font":"DejaVu Sans","fontSize":12,"align":"center","baseline":"middle","fill":"#aaaaaa"},"encoding":{"text":{"field":"t"}}},
{"data":{"values":[{"i":2.5,"p":11733},{"i":2.5,"p":11700},{"i":2.5,"p":11668}]},"mark":{"type":"point","shape":"cross","angle":45,"filled":true,"opacity":1,"fill":"#aaaaaa","size":60}},
{"data":{"values":[{"i":260,"p":11697,"t":"00"},{"i":264.35,"p":11697,"t":"20"}]},"mark":{"type":"text","fontSize":14,"align":"left","baseline":"middle","fill":"#f9a11f"},"encoding":{"text":{"field":"t"}}},
{"data":{"values":[{"i":262.25,"p":11697,"t":"h"},{"i":266.6,"p":11697,"t":"m"}]},"mark":{"type":"text","fontSize":14,"align":"left","baseline":"middle","fill":"#c8cccc"},"encoding":{"text":{"field":"t"}}}
]
}
